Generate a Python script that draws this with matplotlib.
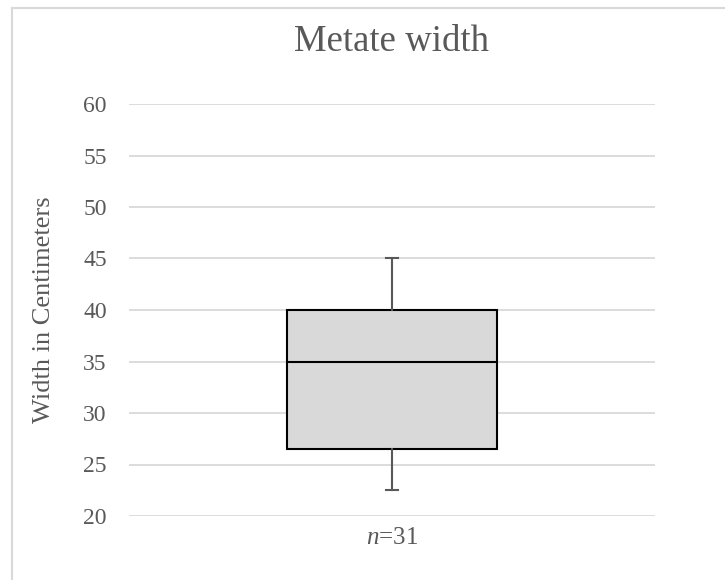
import matplotlib
matplotlib.use("Agg")
import matplotlib.pyplot as plt
from matplotlib.lines import Line2D

plt.rcParams['font.family'] = ['Liberation Serif', 'DejaVu Serif']
plt.rcParams['mathtext.fontset'] = 'custom'
plt.rcParams['mathtext.rm'] = 'Liberation Serif'
plt.rcParams['mathtext.it'] = 'Liberation Serif:italic'

# box plot summary values (cm)
group_labels = ['$n$=31']
q1_vals = [26.5]
median_vals = [35.0]
q3_vals = [40.0]
whisker_low = [22.5]
whisker_high = [45.0]
y_ticks = [20, 25, 30, 35, 40, 45, 50, 55, 60]

text_col = '#595959'
grid_col = '#d9d9d9'

fig = plt.figure(figsize=(7.25, 5.8), dpi=100)
ax = fig.add_axes([129 / 725, 1 - 516 / 580, 526 / 725, 412 / 580])

stats = []
for i in range(len(group_labels)):
    stats.append({
        'q1': q1_vals[i], 'med': median_vals[i], 'q3': q3_vals[i],
        'whislo': whisker_low[i], 'whishi': whisker_high[i],
        'fliers': [], 'label': group_labels[i],
    })

ax.bxp(stats, positions=[1], widths=0.8, capwidths=0.046, patch_artist=True,
       showfliers=False,
       boxprops=dict(facecolor=grid_col, edgecolor='black', linewidth=1.5),
       medianprops=dict(color='black', linewidth=1.5),
       whiskerprops=dict(color=text_col, linewidth=1.5),
       capprops=dict(color=text_col, linewidth=1.5),
       zorder=3)

ax.set_xlim(0, 2)
ax.set_ylim(20, 60)
ax.set_yticks(y_ticks)
ax.grid(axis='y', color=grid_col, linewidth=1.3, zorder=0)
ax.set_axisbelow(True)
for s in ax.spines.values():
    s.set_visible(False)
ax.tick_params(length=0, colors=text_col, labelsize=17)
ax.tick_params(axis='y', pad=16)
ax.tick_params(axis='x', pad=8, labelsize=18)
ax.set_ylabel('Width in Centimeters', fontsize=19, color=text_col)
ax.yaxis.set_label_coords(-0.141, 0.5)

fig.text(392 / 725, 1 - 42 / 580, 'Metate width', ha='center', va='center',
         fontsize=26.5, color=text_col)

# chart area border (top and left visible)
fig.add_artist(Line2D([11.5 / 725, 11.5 / 725], [0, 1 - 7.5 / 580],
                      transform=fig.transFigure, color=grid_col, linewidth=1.5))
fig.add_artist(Line2D([11.5 / 725, 1], [1 - 7.5 / 580, 1 - 7.5 / 580],
                      transform=fig.transFigure, color=grid_col, linewidth=1.5))

fig.savefig('out.png', dpi=100)
